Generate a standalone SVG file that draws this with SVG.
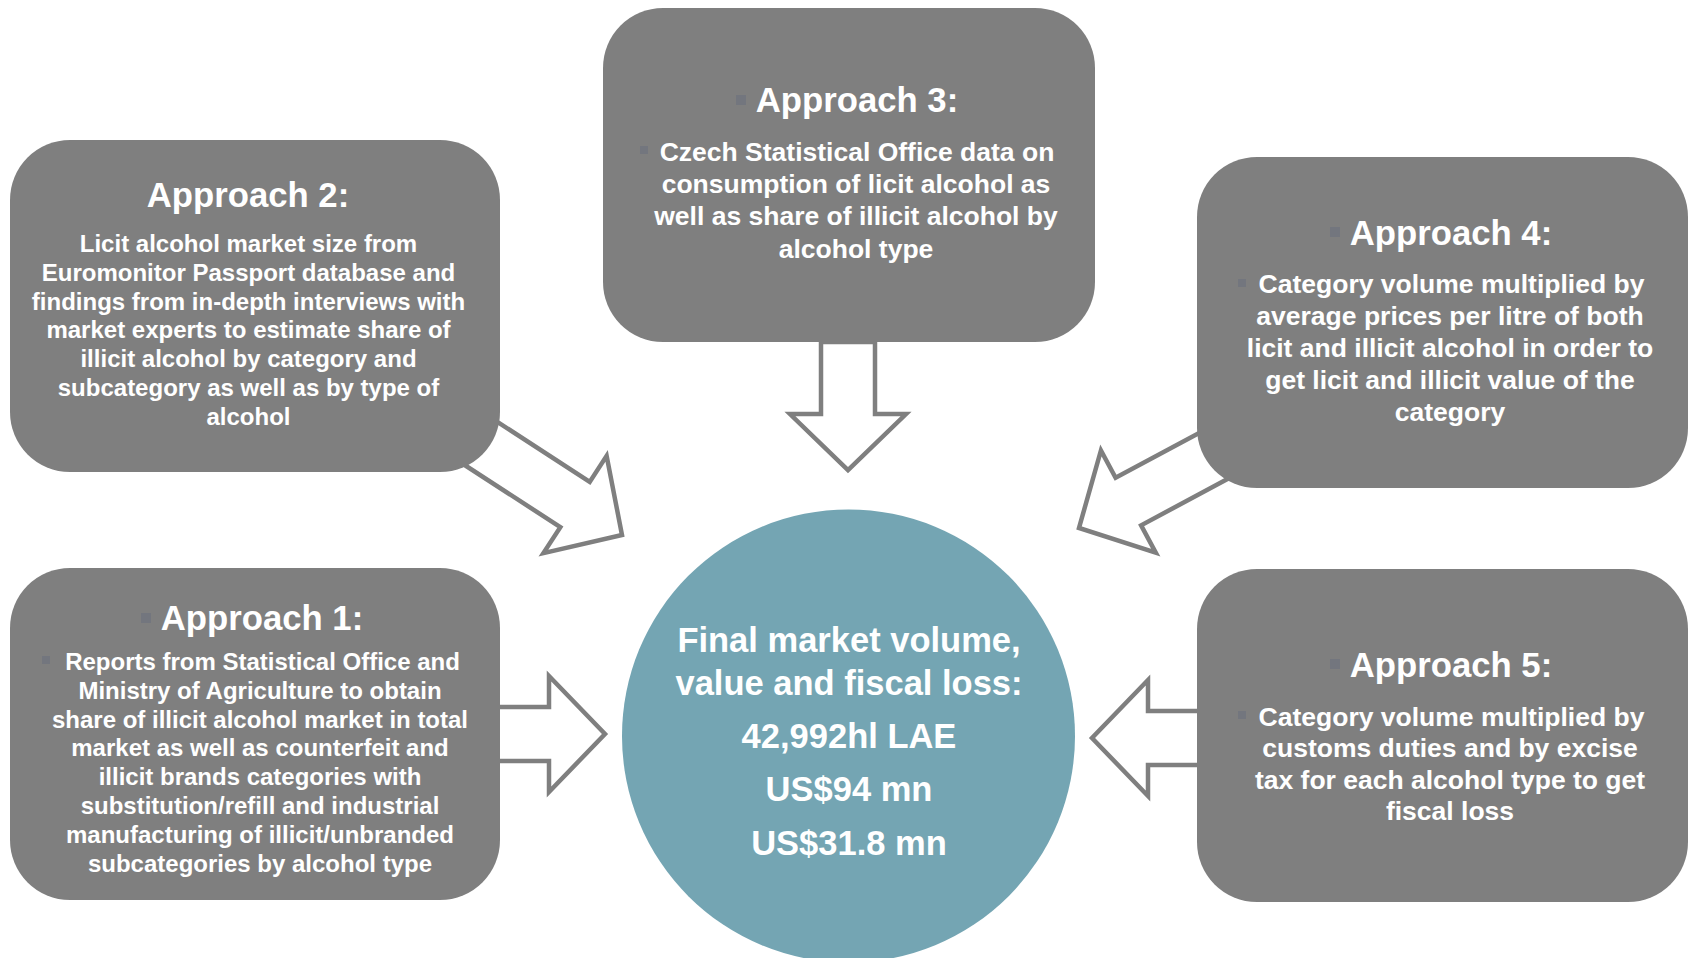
<svg xmlns="http://www.w3.org/2000/svg" width="1688" height="958" viewBox="0 0 1688 958">
<style>
.box{fill:#7f7f7f}
.arrow{fill:#ffffff;stroke:#7f7f7f;stroke-width:4.5;stroke-linejoin:miter}
.t{font-family:"Liberation Sans",Arial,sans-serif;font-weight:bold;fill:#ffffff;text-anchor:middle}
.title{font-size:34.7px}
.b24{font-size:24px}
.b26{font-size:26.5px}
.c{font-size:34.5px}
.bul{fill:#73767e}
</style>
<defs>
<polygon id="arr" points="-200,-27 -56,-27 -56,-58 0,0 -56,58 -56,27 -200,27"/>
</defs>
<rect width="1688" height="958" fill="#ffffff"/>
<g id="connectors">
<polygon class="arrow" points="-128,-27 -56,-27 -56,-58 0,0 -56,58 -56,27 -128,27" transform="translate(848,470) rotate(90)"/>
<polygon class="arrow" points="-115,-27 -56,-27 -56,-58 0,0 -56,58 -56,27 -115,27" transform="translate(605,734)"/>
<polygon class="arrow" points="-115,-27 -56,-27 -56,-58 0,0 -56,58 -56,27 -115,27" transform="translate(1092,738) rotate(180)"/>
<use href="#arr" class="arrow" transform="translate(622,535) rotate(33)"/>
<use href="#arr" class="arrow" transform="translate(1079,528) rotate(151.8)"/>
</g>
<g id="approach2">
<rect class="box" x="10" y="140" width="490" height="332" rx="60" ry="60"/>
<text class="t title" x="248" y="207">Approach 2:</text>
<text class="t b24" x="248.5" y="252">Licit alcohol market size from</text>
<text class="t b24" x="248.5" y="280.8">Euromonitor Passport database and</text>
<text class="t b24" x="248.5" y="309.6">findings from in-depth interviews with</text>
<text class="t b24" x="248.5" y="338.4">market experts to estimate share of</text>
<text class="t b24" x="248.5" y="367.2">illicit alcohol by category and</text>
<text class="t b24" x="248.5" y="396">subcategory as well as by type of</text>
<text class="t b24" x="248.5" y="424.8">alcohol</text>
</g>
<g id="approach3">
<rect class="box" x="603" y="8" width="492" height="334" rx="60" ry="60"/>
<rect class="bul" x="736" y="95" width="10" height="10"/>
<text class="t title" x="857" y="112">Approach 3:</text>
<rect class="bul" x="640" y="146" width="8" height="8"/>
<text class="t b26" x="857" y="161">Czech Statistical Office data on</text>
<text class="t b26" x="856" y="193.2">consumption of licit alcohol as</text>
<text class="t b26" x="856" y="225.4">well as share of illicit alcohol by</text>
<text class="t b26" x="856" y="257.6">alcohol type</text>
</g>
<g id="approach4">
<rect class="box" x="1197" y="157" width="491" height="331" rx="60" ry="60"/>
<rect class="bul" x="1330" y="227" width="10" height="10"/>
<text class="t title" x="1451" y="245">Approach 4:</text>
<rect class="bul" x="1238" y="279" width="8" height="8"/>
<text class="t b26" x="1451.5" y="292.5">Category volume multiplied by</text>
<text class="t b26" x="1450" y="324.5">average prices per litre of both</text>
<text class="t b26" x="1450" y="356.5">licit and illicit alcohol in order to</text>
<text class="t b26" x="1450" y="388.5">get licit and illicit value of the</text>
<text class="t b26" x="1450" y="420.5">category</text>
</g>
<g id="approach1">
<rect class="box" x="10" y="568" width="490" height="332" rx="60" ry="60"/>
<rect class="bul" x="141" y="613" width="10" height="10"/>
<text class="t title" x="262" y="630">Approach 1:</text>
<rect class="bul" x="42" y="656" width="8" height="8"/>
<text class="t b24" x="262.5" y="670">Reports from Statistical Office and</text>
<text class="t b24" x="260" y="698.8">Ministry of Agriculture to obtain</text>
<text class="t b24" x="260" y="727.6">share of illicit alcohol market in total</text>
<text class="t b24" x="260" y="756.4">market as well as counterfeit and</text>
<text class="t b24" x="260" y="785.2">illicit brands categories with</text>
<text class="t b24" x="260" y="814">substitution/refill and industrial</text>
<text class="t b24" x="260" y="842.8">manufacturing of illicit/unbranded</text>
<text class="t b24" x="260" y="871.6">subcategories by alcohol type</text>
</g>
<g id="approach5">
<rect class="box" x="1197" y="569" width="491" height="333" rx="60" ry="60"/>
<rect class="bul" x="1330" y="659" width="10" height="10"/>
<text class="t title" x="1451" y="677">Approach 5:</text>
<rect class="bul" x="1238" y="711" width="8" height="8"/>
<text class="t b26" x="1451.5" y="725.5">Category volume multiplied by</text>
<text class="t b26" x="1450" y="757">customs duties and by excise</text>
<text class="t b26" x="1450" y="788.5">tax for each alcohol type to get</text>
<text class="t b26" x="1450" y="820">fiscal loss</text>
</g>
<g id="result">
<circle cx="848.5" cy="736" r="226.5" fill="#74a5b3"/>
<text class="t c" x="849" y="651.5">Final market volume,</text>
<text class="t c" x="849" y="694.5">value and fiscal loss:</text>
<text class="t c" x="849" y="747.5">42,992hl LAE</text>
<text class="t c" x="849" y="800.5">US$94 mn</text>
<text class="t c" x="849" y="854.5">US$31.8 mn</text>
</g>
</svg>
